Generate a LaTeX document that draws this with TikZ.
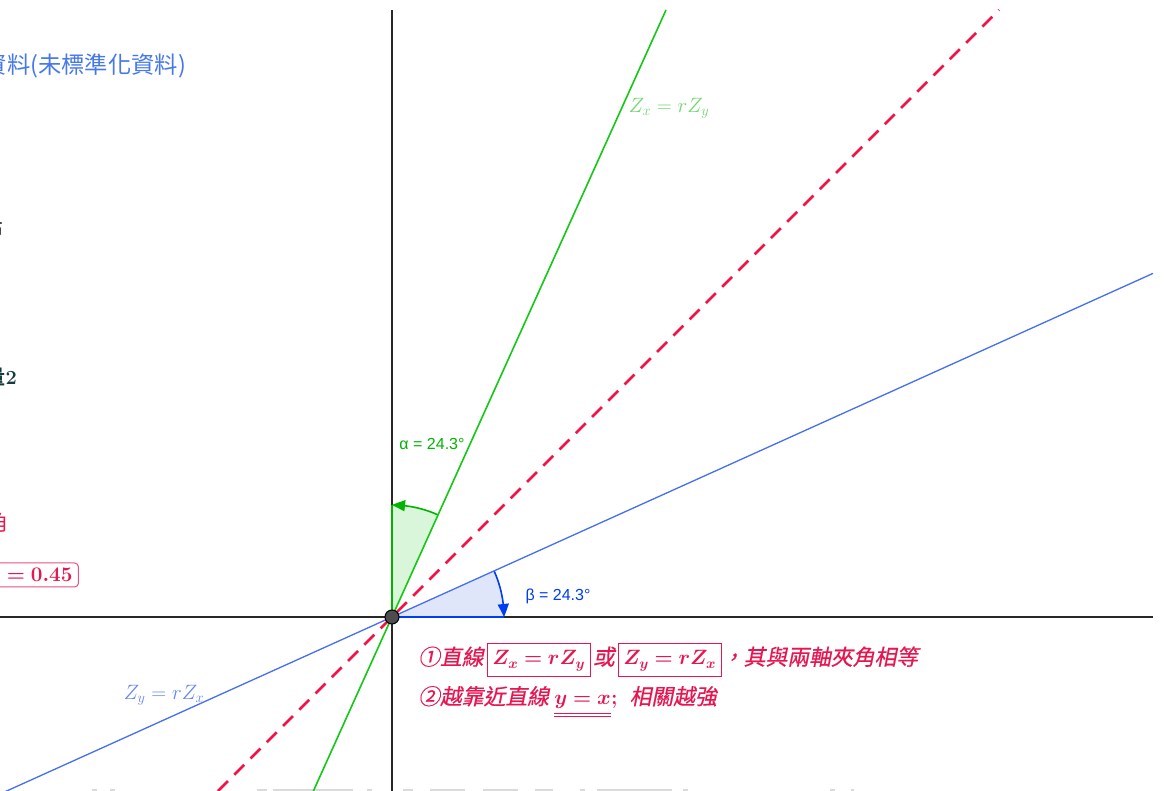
\documentclass[tikz,border=0pt]{standalone}
\usepackage{fontspec}
\usepackage{bm}
\usetikzlibrary{arrows.meta,bending}
\newfontfamily\cjk{Noto Sans CJK TC}
\newfontfamily\cjksl{Noto Sans CJK TC}[FakeSlant=0.2,FakeBold=0.5]
\newfontfamily\ggb{Liberation Sans}
\definecolor{gline}{RGB}{20,200,20}
\definecolor{garc}{RGB}{0,180,0}
\definecolor{gfillc}{RGB}{218,246,218}
\definecolor{glabel}{RGB}{110,215,110}
\definecolor{bline}{RGB}{70,110,240}
\definecolor{barc}{RGB}{0,60,240}
\definecolor{bfillc}{RGB}{224,230,250}
\definecolor{blabel}{RGB}{100,135,240}
\definecolor{rdash}{RGB}{240,20,70}
\definecolor{rtext}{RGB}{232,22,80}
\definecolor{rboxc}{RGB}{235,80,130}
\definecolor{topblue}{RGB}{70,120,235}
\definecolor{darkteal}{RGB}{20,60,60}
\definecolor{axisc}{RGB}{40,40,40}
\definecolor{faintgray}{RGB}{218,218,218}
\definecolor{ptfill}{RGB}{77,77,77}
\tikzset{
  axisline/.style={axisc, line width=1.3},
  rt/.style={text=rtext, font=\cjksl\fontsize{21.8}{26}\selectfont, inner sep=0, anchor=base west},
  mbox/.style={draw=rtext, line width=1, text=rtext, inner xsep=5, inner ysep=7,
    text height=14, text depth=5, font=\fontsize{19.5}{24}\selectfont, anchor=base west},
  lbl/.style={font=\fontsize{20}{24}\selectfont, inner sep=1},
  anglbl/.style={font=\ggb\fontsize{16}{19}\selectfont, inner sep=1},
  arctip/.style={-{Triangle[length=13,width=11,bend]}}
}
\begin{document}
\begin{tikzpicture}[x=1pt,y=1pt]
\useasboundingbox (-392,-174) rectangle (772,617);
\fill[white] (-392,-174) rectangle (772,617);
\coordinate (O) at (0,0);
\coordinate (xl) at (-392,0);
\coordinate (xr) at (761,0);
\coordinate (yb) at (0,-174);
\coordinate (yt) at (0,607);
\coordinate (gb) at (-78.6,-174);
\coordinate (gt) at (274,607);
\coordinate (bb) at (-392,-177);
\coordinate (bt) at (761,343.6);
\coordinate (rb1) at (-174,-174);
\coordinate (rt1) at (607,607);
% faint marks at bottom edge
\foreach \a/\b in {92/97,110/115,257/267,273/353,367/372,403/413,430/465,483/518,535/553,580/585,597/672,683/688,830/835,851/854}
  \fill[faintgray] ({\a-392},-174) rectangle ({\b-392},-172);
% sectors
\fill[gfillc] (O) -- (65.7:112) arc[start angle=65.7,end angle=90,radius=112] -- cycle;
\fill[bfillc] (O) -- (0:112) arc[start angle=0,end angle=24.3,radius=112] -- cycle;
% axes
\draw[axisline] (xl) -- (xr);
\draw[axisline] (yb) -- (yt);
% sector edges
\draw[garc, line width=1.6] (O) -- (90:112);
\draw[garc, line width=1.6, arctip] (65.7:112) arc[start angle=65.7,end angle=90,radius=112];
\draw[barc, line width=1.6] (O) -- (0:112);
\draw[barc, line width=1.6, arctip] (24.3:112) arc[start angle=24.3,end angle=0,radius=112];
% lines
\draw[gline, line width=1.6] (gb) -- (gt);
\draw[bline, line width=1.3] (bb) -- (bt);
\draw[rdash, line width=2.6, dash pattern=on 14 off 9] (rb1) -- (rt1);
% point
\node[circle, fill=ptfill, draw=black, line width=1, minimum size=14, inner sep=0] (P) at (O) {};
% line labels
\node[lbl, text=glabel] (lgz) at (277,509) {$Z_x = rZ_y$};
\node[lbl, text=blabel] (lbz) at (-228,-78) {$Z_y = rZ_x$};
\node[anglbl, text=garc] (la) at (40,173) {α = 24.3°};
\node[anglbl, text=barc] (lb) at (166,21) {β = 24.3°};
% left texts (cut off)
\node[font=\cjk\fontsize{23.3}{27}\selectfont, text=topblue, anchor=west, inner sep=0] (tt) at (-408.3,551) {資料(未標準化資料)};
\node[font=\cjk\fontsize{20}{24}\selectfont, anchor=east, inner sep=0] (f1) at (-388.5,388) {布};
\node[font=\fontsize{20}{24}\selectfont\bfseries, text=darkteal, anchor=east, inner sep=0] (f2) at (-375,240) {{\cjk 量}2};
\node[font=\cjk\fontsize{22}{26}\selectfont, text=rtext, anchor=east, inner sep=0] (f3) at (-383,95) {角};
\node[draw=rboxc, rounded corners=4, line width=1, text=rtext, inner xsep=6, inner ysep=4.5,
  text height=14, text depth=1, anchor=east, font=\fontsize{20}{24}\selectfont] (rbox) at (-313,42) {$\bm{r = 0.45}$};
% bottom explanation
\node[rt] (l1a) at (26,-48) {①直線};
\node[mbox] (b1) at ([xshift=3]l1a.base east) {$\bm{Z_x = rZ_y}$};
\node[rt] (l1b) at ([xshift=2]b1.base east) {或};
\node[mbox] (b2) at ([xshift=3]l1b.base east) {$\bm{Z_y = rZ_x}$};
\node[rt] (l1c) at ([xshift=0]b2.base east) {，其與兩軸夾角相等};
\node[rt] (l2a) at (26,-87.5) {②越靠近直線};
\node[text=rtext, font=\fontsize{20}{24}\selectfont, inner sep=0, anchor=base west] (l2b) at ([xshift=5]l2a.base east) {$\bm{y = x}$};
\node[rt] (l2c) at (l2b.base east) {$\bm{;}$\hspace{12pt}相關越強};
\draw[rtext, line width=0.8] ([yshift=-8.5]l2b.base west) -- ([yshift=-8.5]l2b.base east);
\draw[rtext, line width=0.8] ([yshift=-11.5]l2b.base west) -- ([yshift=-11.5]l2b.base east);
\end{tikzpicture}
\end{document}
